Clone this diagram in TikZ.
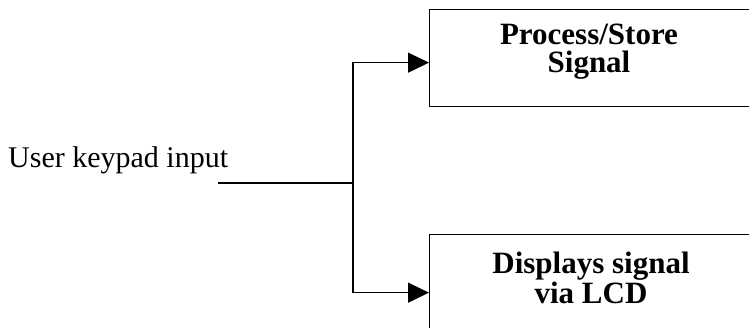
\documentclass[tikz,border=0pt]{standalone}
\usepackage{fontspec}
\setmainfont{Liberation Serif}
\usetikzlibrary{arrows.meta}
\begin{document}
\begin{tikzpicture}[x=1pt, y=-1pt,
  wire/.style={line width=1.3pt},
  feed/.style={wire, -{Triangle[length=21pt,width=20pt]}},
  blockbox/.style={draw, line width=1.3pt, rectangle, inner sep=0pt, anchor=north west},
  blocktext/.style={font=\fontsize{31}{28}\selectfont\bfseries, align=center, inner sep=0pt, anchor=north},
  inputtext/.style={font=\fontsize{30}{36}\selectfont, inner sep=0pt, anchor=base west}]
  \useasboundingbox (0,0) rectangle (749,328);
  \clip (0,0) rectangle (749,328);

  % processing blocks (they run off the right and lower edges)
  \node[blockbox, minimum width=340pt, minimum height=97pt] (store) at (429,9) {};
  \node[blocktext] (storetext) at (589,24) {Process/Store\\Signal};

  \node[blockbox, minimum width=340pt, minimum height=116pt] (lcd) at (429,234) {};
  \node[blocktext] (lcdtext) at (591,252) {Displays signal\\via LCD};

  % input label and its line
  \node[inputtext] (input) at (8,168) {User keypad input};
  \coordinate (instart) at (218,183);
  \coordinate (split) at (353,183);

  \draw[wire] (instart) -- (split);
  \draw[feed] (split) |- ([yshift=-4.5pt]store.west);
  \draw[feed] (split) |- (lcd.west);
\end{tikzpicture}
\end{document}
